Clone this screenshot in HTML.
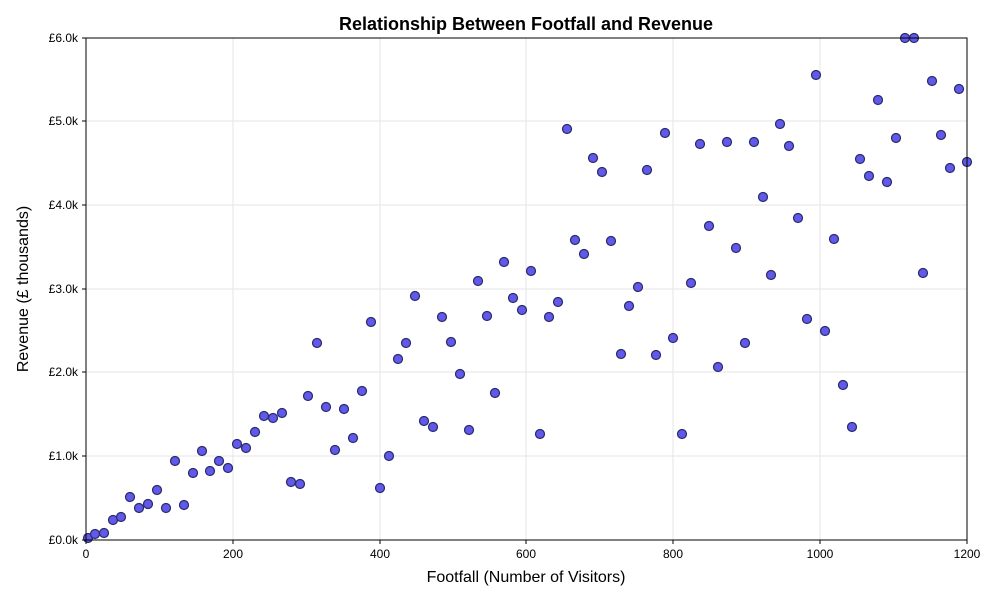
<!DOCTYPE html>
<html><head><meta charset="utf-8"><style>
body{margin:0;background:#fff;}
text{font-family:"Liberation Sans",sans-serif;}
</style></head><body>
<svg width="1000" height="600" xmlns="http://www.w3.org/2000/svg">
<rect width="1000" height="600" fill="#fff"/>
<g stroke="#e6e6e6" stroke-width="1">
<line x1="233" y1="38" x2="233" y2="540"/><line x1="380" y1="38" x2="380" y2="540"/>
<line x1="526" y1="38" x2="526" y2="540"/><line x1="673" y1="38" x2="673" y2="540"/>
<line x1="820" y1="38" x2="820" y2="540"/>
<line x1="86" y1="456" x2="967" y2="456"/><line x1="86" y1="372" x2="967" y2="372"/>
<line x1="86" y1="289" x2="967" y2="289"/><line x1="86" y1="205" x2="967" y2="205"/>
<line x1="86" y1="121" x2="967" y2="121"/>
</g>
<g fill="#6159ea" stroke="#2a2a6a" stroke-width="1.2">
<circle cx="88" cy="538" r="4.5"/><circle cx="95" cy="534" r="4.5"/><circle cx="104" cy="533" r="4.5"/><circle cx="113" cy="520" r="4.5"/><circle cx="121" cy="517" r="4.5"/><circle cx="130" cy="497" r="4.5"/><circle cx="139" cy="508" r="4.5"/><circle cx="148" cy="504" r="4.5"/><circle cx="157" cy="490" r="4.5"/><circle cx="166" cy="508" r="4.5"/>
<circle cx="175" cy="461" r="4.5"/><circle cx="184" cy="505" r="4.5"/><circle cx="193" cy="473" r="4.5"/><circle cx="202" cy="451" r="4.5"/><circle cx="210" cy="471" r="4.5"/><circle cx="219" cy="461" r="4.5"/><circle cx="228" cy="468" r="4.5"/><circle cx="237" cy="444" r="4.5"/><circle cx="246" cy="448" r="4.5"/><circle cx="255" cy="432" r="4.5"/>
<circle cx="264" cy="416" r="4.5"/><circle cx="273" cy="418" r="4.5"/><circle cx="282" cy="413" r="4.5"/><circle cx="291" cy="482" r="4.5"/><circle cx="300" cy="484" r="4.5"/><circle cx="308" cy="396" r="4.5"/><circle cx="317" cy="343" r="4.5"/><circle cx="326" cy="407" r="4.5"/><circle cx="335" cy="450" r="4.5"/><circle cx="344" cy="409" r="4.5"/>
<circle cx="353" cy="438" r="4.5"/><circle cx="362" cy="391" r="4.5"/><circle cx="371" cy="322" r="4.5"/><circle cx="380" cy="488" r="4.5"/><circle cx="389" cy="456" r="4.5"/><circle cx="398" cy="359" r="4.5"/><circle cx="406" cy="343" r="4.5"/><circle cx="415" cy="296" r="4.5"/><circle cx="424" cy="421" r="4.5"/><circle cx="433" cy="427" r="4.5"/>
<circle cx="442" cy="317" r="4.5"/><circle cx="451" cy="342" r="4.5"/><circle cx="460" cy="374" r="4.5"/><circle cx="469" cy="430" r="4.5"/><circle cx="478" cy="281" r="4.5"/><circle cx="487" cy="316" r="4.5"/><circle cx="495" cy="393" r="4.5"/><circle cx="504" cy="262" r="4.5"/><circle cx="513" cy="298" r="4.5"/><circle cx="522" cy="310" r="4.5"/>
<circle cx="531" cy="271" r="4.5"/><circle cx="540" cy="434" r="4.5"/><circle cx="549" cy="317" r="4.5"/><circle cx="558" cy="302" r="4.5"/><circle cx="567" cy="129" r="4.5"/><circle cx="575" cy="240" r="4.5"/><circle cx="584" cy="254" r="4.5"/><circle cx="593" cy="158" r="4.5"/><circle cx="602" cy="172" r="4.5"/><circle cx="611" cy="241" r="4.5"/>
<circle cx="621" cy="354" r="4.5"/><circle cx="629" cy="306" r="4.5"/><circle cx="638" cy="287" r="4.5"/><circle cx="647" cy="170" r="4.5"/><circle cx="656" cy="355" r="4.5"/><circle cx="665" cy="133" r="4.5"/><circle cx="673" cy="338" r="4.5"/><circle cx="682" cy="434" r="4.5"/><circle cx="691" cy="283" r="4.5"/><circle cx="700" cy="144" r="4.5"/>
<circle cx="709" cy="226" r="4.5"/><circle cx="718" cy="367" r="4.5"/><circle cx="727" cy="142" r="4.5"/><circle cx="736" cy="248" r="4.5"/><circle cx="745" cy="343" r="4.5"/><circle cx="754" cy="142" r="4.5"/><circle cx="763" cy="197" r="4.5"/><circle cx="771" cy="275" r="4.5"/><circle cx="780" cy="124" r="4.5"/><circle cx="789" cy="146" r="4.5"/>
<circle cx="798" cy="218" r="4.5"/><circle cx="807" cy="319" r="4.5"/><circle cx="816" cy="75" r="4.5"/><circle cx="825" cy="331" r="4.5"/><circle cx="834" cy="239" r="4.5"/><circle cx="843" cy="385" r="4.5"/><circle cx="852" cy="427" r="4.5"/><circle cx="860" cy="159" r="4.5"/><circle cx="869" cy="176" r="4.5"/><circle cx="878" cy="100" r="4.5"/>
<circle cx="887" cy="182" r="4.5"/><circle cx="896" cy="138" r="4.5"/><circle cx="905" cy="38" r="4.5"/><circle cx="914" cy="38" r="4.5"/><circle cx="923" cy="273" r="4.5"/><circle cx="932" cy="81" r="4.5"/><circle cx="941" cy="135" r="4.5"/><circle cx="950" cy="168" r="4.5"/><circle cx="959" cy="89" r="4.5"/><circle cx="967" cy="162" r="4.5"/>
</g>
<rect x="86" y="38" width="881" height="502" fill="none" stroke="#000" stroke-width="1"/>
<g stroke="#000"><line x1="86" y1="540" x2="86" y2="544"/><line x1="233" y1="540" x2="233" y2="544"/><line x1="380" y1="540" x2="380" y2="544"/><line x1="526" y1="540" x2="526" y2="544"/><line x1="673" y1="540" x2="673" y2="544"/><line x1="820" y1="540" x2="820" y2="544"/><line x1="967" y1="540" x2="967" y2="544"/>
<line x1="82" y1="540" x2="86" y2="540"/><line x1="82" y1="456" x2="86" y2="456"/><line x1="82" y1="372" x2="86" y2="372"/><line x1="82" y1="289" x2="86" y2="289"/><line x1="82" y1="205" x2="86" y2="205"/><line x1="82" y1="121" x2="86" y2="121"/><line x1="82" y1="38" x2="86" y2="38"/></g>
<g font-size="12" text-anchor="middle"><text x="86" y="558">0</text><text x="233" y="558">200</text><text x="380" y="558">400</text><text x="526" y="558">600</text><text x="673" y="558">800</text><text x="820" y="558">1000</text><text x="967" y="558">1200</text></g>
<g font-size="12" text-anchor="end"><text x="78" y="544">£0.0k</text><text x="78" y="460">£1.0k</text><text x="78" y="376">£2.0k</text><text x="78" y="293">£3.0k</text><text x="78" y="209">£4.0k</text><text x="78" y="125">£5.0k</text><text x="78" y="42">£6.0k</text></g>
<text x="526" y="30" font-size="18" font-weight="bold" text-anchor="middle">Relationship Between Footfall and Revenue</text>
<text x="526" y="582" font-size="16" text-anchor="middle">Footfall (Number of Visitors)</text>
<text x="28" y="289" font-size="16" text-anchor="middle" transform="rotate(-90 28 289)">Revenue (£ thousands)</text>
</svg>
</body></html>
